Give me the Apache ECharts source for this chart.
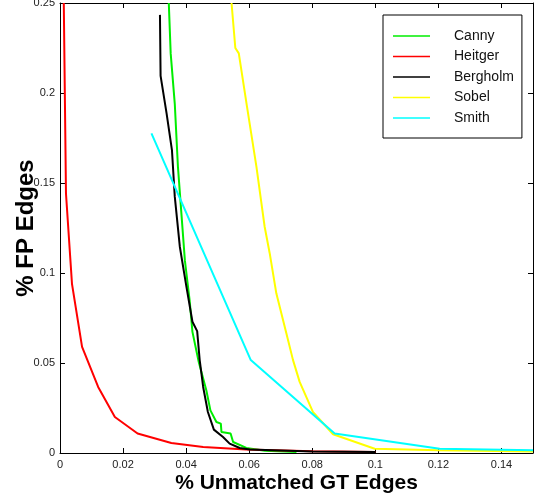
<!DOCTYPE html>
<html>
<head>
<meta charset="utf-8">
<script src="https://cdn.jsdelivr.net/npm/echarts@6/dist/echarts.min.js"></script>
<style>
  html, body { margin: 0; padding: 0; background: #fff; }
  #chart { width: 540px; height: 503px; }
</style>
</head>
<body>
<div id="chart"></div>
<script>
// Operating curves: fraction of unmatched ground-truth edges (x) vs false-positive edges (y)
const seriesNames = ['Canny', 'Heitger', 'Bergholm', 'Sobel', 'Smith'];
const seriesColors = ['#00ee00', '#ff0000', '#000000', '#ffff00', '#00ffff'];

const canny = [
  [0.0345, 0.25], [0.0351, 0.222], [0.0364, 0.194], [0.0374, 0.159], [0.0385, 0.133],
  [0.0396, 0.107], [0.0411, 0.085], [0.0420, 0.0673], [0.0440, 0.0506], [0.0464, 0.0349],
  [0.0477, 0.0237], [0.0496, 0.0172], [0.0510, 0.0163], [0.0512, 0.0117], [0.0541, 0.0108],
  [0.0549, 0.0061], [0.0591, 0.0028], [0.0650, 0.0012], [0.0750, 0.0005]
];
const heitger = [
  [0.0012, 0.25], [0.0019, 0.144], [0.0038, 0.094], [0.0070, 0.059], [0.0121, 0.0367],
  [0.0174, 0.020], [0.0246, 0.0108], [0.0353, 0.0056], [0.0454, 0.0033], [0.0590, 0.0019],
  [0.0800, 0.0010], [0.1000, 0.0005]
];
const bergholm = [
  [0.0317, 0.2434], [0.0319, 0.2095], [0.0338, 0.1887], [0.0355, 0.1683], [0.0364, 0.1424],
  [0.0380, 0.1146], [0.0401, 0.0923], [0.0420, 0.0729], [0.0435, 0.0677], [0.0443, 0.0516],
  [0.0454, 0.0367], [0.0469, 0.0228], [0.0488, 0.0130], [0.0517, 0.0089], [0.0538, 0.0052],
  [0.0570, 0.0028], [0.0602, 0.0019], [0.0800, 0.0008], [0.1000, 0.0005]
];
const sobel = [
  [0.0544, 0.25], [0.0556, 0.225], [0.0567, 0.222], [0.0593, 0.1924], [0.0623, 0.159],
  [0.0649, 0.1257], [0.0665, 0.111], [0.0686, 0.0887], [0.0718, 0.0664], [0.0739, 0.0516],
  [0.0760, 0.0395], [0.0802, 0.0228], [0.0866, 0.0104], [0.0998, 0.0024], [0.1200, 0.0015],
  [0.1500, 0.0008]
];
const smith = [
  [0.0290, 0.1776], [0.0605, 0.0516], [0.0871, 0.0108], [0.1204, 0.0024], [0.1500, 0.0015]
];
const seriesData = [canny, heitger, bergholm, sobel, smith];

const xTicks = { min: 0, max: 0.15, interval: 0.02 };
const yTicks = { min: 0, max: 0.25, interval: 0.05 };

const fmt = v => (Math.round(v * 1000) / 1000).toString();

const chart = echarts.init(document.getElementById('chart'), null, { renderer: 'canvas' });

const frameAxis = (extra) => Object.assign({
  type: 'value',
  axisLine: { show: true, onZero: false, lineStyle: { color: '#000', width: 1 } },
  axisTick: { show: true, inside: true, length: 5, lineStyle: { color: '#000', width: 1 } },
  splitLine: { show: false },
  nameMoveOverlap: false
}, extra);

chart.setOption({
  animation: false,
  backgroundColor: '#fff',
  grid: { left: 60, right: 7, top: 3, bottom: 50, outerBoundsMode: 'none', containLabel: false },
  xAxis: [
    frameAxis({
      position: 'bottom', min: xTicks.min, max: xTicks.max, interval: xTicks.interval,
      name: '% Unmatched GT Edges', nameLocation: 'middle', nameGap: 20,
      nameTextStyle: { fontFamily: 'Liberation Sans', fontWeight: 'bold', fontSize: 21, color: '#000', verticalAlign: 'top' },
      axisLabel: { show: true, margin: 6, fontFamily: 'Liberation Sans', fontSize: 11, color: '#222', formatter: fmt, showMaxLabel: false }
    }),
    frameAxis({
      position: 'top', min: xTicks.min, max: xTicks.max, interval: xTicks.interval,
      axisLabel: { show: false }
    })
  ],
  yAxis: [
    frameAxis({
      position: 'left', min: yTicks.min, max: yTicks.max, interval: yTicks.interval,
      name: '% FP Edges', nameLocation: 'middle', nameGap: 22,
      nameTextStyle: { fontFamily: 'Liberation Sans', fontWeight: 'bold', fontSize: 24, color: '#000' },
      axisLabel: { show: true, margin: 5, fontFamily: 'Liberation Sans', fontSize: 11, color: '#222', formatter: fmt }
    }),
    frameAxis({
      position: 'right', min: yTicks.min, max: yTicks.max, interval: yTicks.interval,
      axisLabel: { show: false }
    })
  ],
  legend: {
    orient: 'vertical',
    left: 383, top: 15,
    padding: [13, 8, 12, 10],
    itemGap: 4.5,
    itemWidth: 37, itemHeight: 1.5,
    icon: 'rect',
    backgroundColor: '#fff',
    borderColor: '#000', borderWidth: 1, borderRadius: 0,
    textStyle: { fontFamily: 'Liberation Sans', fontSize: 14, color: '#111', lineHeight: 16, padding: [0, 0, 0, 19] },
    data: seriesNames
  },
  series: seriesNames.map((name, i) => ({
    name,
    type: 'line',
    xAxisIndex: 0, yAxisIndex: 0,
    data: seriesData[i],
    showSymbol: false, symbol: 'none',
    clip: true,
    color: seriesColors[i],
    lineStyle: { color: seriesColors[i], width: 2 },
    itemStyle: { color: seriesColors[i] },
    z: 2 + i
  }))
});
</script>
</body>
</html>
